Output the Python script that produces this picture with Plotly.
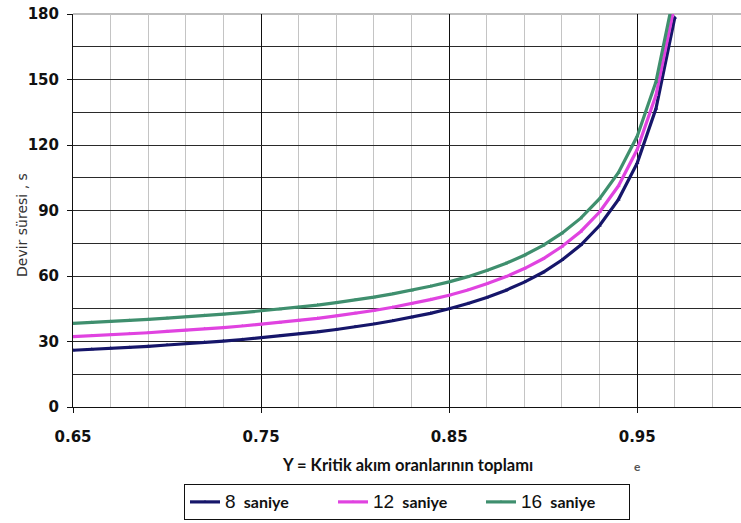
import plotly.graph_objects as go

# Y = sum of critical flow ratios
y_ratio = [0.65, 0.66, 0.67, 0.68, 0.69, 0.70, 0.71, 0.72, 0.73, 0.74,
           0.75, 0.76, 0.77, 0.78, 0.79, 0.80, 0.81, 0.82, 0.83, 0.84,
           0.85, 0.86, 0.87, 0.88, 0.89, 0.90, 0.91, 0.92, 0.93, 0.94,
           0.95, 0.96, 0.97]

cycle_8 = [26.0, 26.4, 26.9, 27.3, 27.8, 28.4, 28.9, 29.6, 30.2, 30.9,
           31.7, 32.5, 33.4, 34.4, 35.5, 36.7, 38.0, 39.5, 41.1, 42.9,
           45.0, 47.4, 50.2, 53.4, 57.2, 61.7, 67.3, 74.2, 83.1, 95.0,
           111.7, 136.7, 178.4]

cycle_12 = [32.2, 32.6, 33.1, 33.5, 34.0, 34.6, 35.1, 35.8, 36.4, 37.1,
            37.9, 38.7, 39.6, 40.6, 41.7, 42.9, 44.2, 45.7, 47.3, 49.2,
            51.2, 53.6, 56.4, 59.6, 63.4, 67.9, 73.5, 80.4, 89.3, 101.2,
            117.9, 142.9, 184.6]

cycle_16 = [38.3, 38.7, 39.2, 39.6, 40.1, 40.7, 41.2, 41.9, 42.5, 43.2,
            44.0, 44.8, 45.7, 46.7, 47.8, 49.0, 50.3, 51.8, 53.4, 55.3,
            57.3, 59.7, 62.5, 65.7, 69.5, 74.0, 79.6, 86.5, 95.4, 107.3,
            124.0, 149.0, 190.7]

series_names = ["8", "12", "16"]
series_values = [cycle_8, cycle_12, cycle_16]
colors = ["#16166a", "#e043e0", "#3f8f6e"]

x_ticks = [0.65, 0.75, 0.85, 0.95]
y_ticks = [0, 30, 60, 90, 120, 150, 180]

W, H = 741, 523
ML, MR, MT, MB = 73, 0, 14, 116
PW = W - ML - MR
PH = H - MT - MB


def px_x(px):
    return (px - ML) / PW


def px_y(py):
    return (H - MB - py) / PH


fig = go.Figure()
for name, vals, col in zip(series_names, series_values, colors):
    fig.add_trace(go.Scatter(
        x=y_ratio, y=vals, mode="lines+markers",
        name=("<span style='font-family:Liberation Sans;font-size:19px;font-weight:normal'>"
              + name + "</span>  <b>saniye</b>"),
        line=dict(color=col, width=3.2),
        marker=dict(symbol="triangle-up", size=4, color=col),
    ))

fig.update_layout(
    width=W, height=H,
    margin=dict(l=ML, r=MR, t=MT, b=MB, autoexpand=False),
    paper_bgcolor="white", plot_bgcolor="white",
    font=dict(family="Liberation Sans, Arial", color="#111"),
    showlegend=True,
    legend=dict(
        orientation="h",
        x=px_x(184), xanchor="left",
        y=px_y(520), yanchor="bottom",
        bordercolor="#111", borderwidth=1,
        bgcolor="white",
        font=dict(family="Lato, Open Sans", size=16, color="#111"),
        itemwidth=30, entrywidth=103,
        tracegroupgap=0,
    ),
    xaxis=dict(
        range=[0.65, 1.0052],
        tickvals=x_ticks, ticktext=[f"{v:.2f}" for v in x_ticks],
        tickfont=dict(family="DejaVu Sans", size=15, color="#111", weight="bold"),
        ticks="outside", ticklen=5, tickcolor="#111", tickwidth=1,
        ticklabelstandoff=11,
        showgrid=True, gridcolor="#111", gridwidth=1,
        showline=True, linecolor="#111", linewidth=1,
        zeroline=False,
        minor=dict(dtick=0.02, tick0=0.65, showgrid=True, gridcolor="#c4c4c4", gridwidth=1, ticks=""),
    ),
    yaxis=dict(
        range=[0, 180],
        tickvals=y_ticks,
        tickfont=dict(family="DejaVu Sans", size=15, color="#111", weight="bold"),
        ticks="outside", ticklen=5, tickcolor="#111", tickwidth=1,
        ticklabelstandoff=5,
        showgrid=True, gridcolor="#2a2a2a", gridwidth=1.2,
        showline=True, linecolor="#111", linewidth=1,
        zeroline=False,
        minor=dict(dtick=15, tick0=0, showgrid=True, gridcolor="#2a2a2a", gridwidth=1.2, ticks=""),
    ),
    shapes=[
        dict(type="line", xref="paper", yref="paper", x0=0, x1=1, y0=1, y1=1,
             line=dict(color="#bdbdbd", width=2), layer="between"),
    ],
    annotations=[
        dict(text="Devir süresi , s", xref="paper", yref="paper",
             x=px_x(22), y=px_y(225),
             textangle=-90, showarrow=False, xanchor="center", yanchor="middle",
             font=dict(family="DejaVu Sans", size=14, color="#333")),
        dict(text="<b>Y = Kritik akım oranlarının toplamı</b>", xref="paper", yref="paper",
             x=px_x(407), y=px_y(465),
             showarrow=False, xanchor="center", yanchor="middle",
             font=dict(family="Lato, Open Sans", size=16.5, color="#111")),
        dict(text="<b>e</b>", xref="paper", yref="paper",
             x=px_x(637), y=px_y(466),
             showarrow=False, xanchor="center", yanchor="middle",
             font=dict(family="Lato, Open Sans", size=12, color="#555")),
    ],
)

fig.write_html("out.html",
               config={"displayModeBar": False},
               post_script="document.body.style.margin='0';document.body.style.overflow='hidden';")
